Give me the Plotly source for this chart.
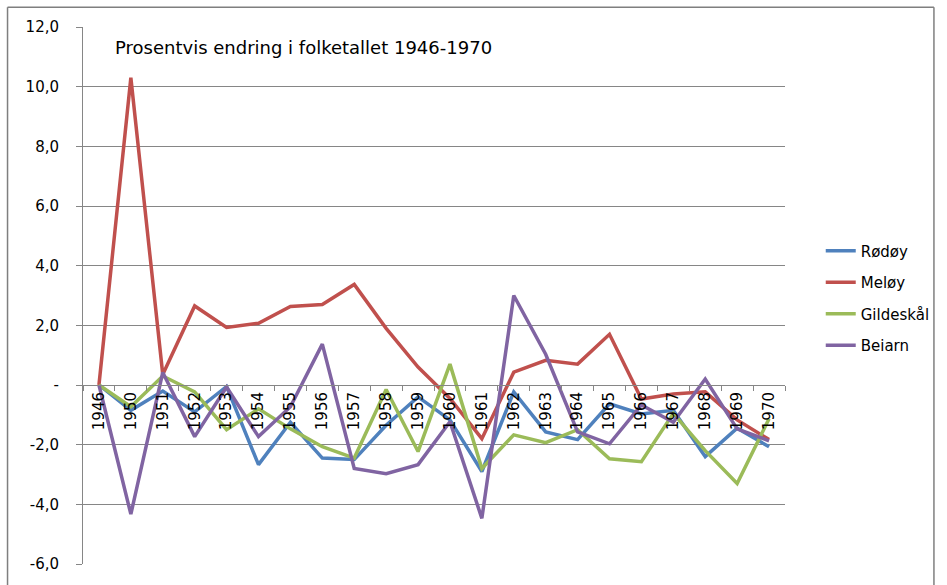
import plotly.graph_objects as go

years = ["1946", "1950", "1951", "1952", "1953", "1954", "1955", "1956", "1957", "1958", "1959",
         "1960", "1961", "1962", "1963", "1964", "1965", "1966", "1967", "1968", "1969", "1970"]

rodoy = [0, -0.85, -0.2, -0.9, -0.05, -2.67, -1.25, -2.45, -2.5, -1.35, -0.4,
         -1.17, -2.9, -0.23, -1.57, -1.83, -0.63, -0.97, -0.85, -2.4, -1.45, -2.07]
meloy = [0, 10.3, 0.35, 2.65, 1.93, 2.07, 2.63, 2.7, 3.37, 1.9, 0.6,
         -0.45, -1.8, 0.43, 0.83, 0.7, 1.7, -0.47, -0.3, -0.23, -1.17, -1.83]
gildeskal = [0, -0.73, 0.3, -0.23, -1.5, -0.8, -1.47, -2.07, -2.45, -0.15, -2.23,
             0.7, -2.8, -1.67, -1.93, -1.5, -2.47, -2.57, -0.95, -2.2, -3.3, -1.13]
beiarn = [0, -4.33, 0.42, -1.73, -0.07, -1.73, -0.73, 1.37, -2.8, -2.97, -2.67,
          -1.23, -4.47, 3.0, 1.03, -1.57, -1.97, -0.67, -1.25, 0.2, -1.47, -1.87]

series_names = ["Rødøy", "Meløy", "Gildeskål", "Beiarn"]
series_values = [rodoy, meloy, gildeskal, beiarn]
series_colors = ["#4F81BD", "#C0504D", "#9BBB59", "#8064A2"]

y_tickvals = [-6, -4, -2, 0, 2, 4, 6, 8, 10, 12]
y_ticktext = ["-6,0", "-4,0", "-2,0", "-", "2,0", "4,0", "6,0", "8,0", "10,0", "12,0"]

title_text = "Prosentvis endring i folketallet 1946-1970"

FONT = "DejaVu Sans"
GRID = "#868686"

fig = go.Figure()
for name, vals, col in zip(series_names, series_values, series_colors):
    fig.add_trace(go.Scatter(
        x=years, y=vals, name=name, mode="lines",
        line=dict(color=col, width=3.5),
        legendgroup=name,
    ))

W, H = 947, 585
ml, mr, mt, mb = 83, 157, 27, 17
pw = W - ml - mr
ph = H - mt - mb

def px_x(px):
    return (px - ml) / pw

def px_y(py):
    return (H - mb - py) / ph

fig.update_layout(
    width=W, height=H,
    margin=dict(l=ml, r=mr, t=mt, b=mb, pad=0),
    paper_bgcolor="white", plot_bgcolor="white",
    font=dict(family=FONT, size=15, color="#000000"),
    showlegend=True,
    legend=dict(
        x=px_x(826), xanchor="left",
        y=px_y(236), yanchor="top",
        font=dict(family=FONT, size=15, color="#000000"),
        tracegroupgap=9,
        bgcolor="rgba(0,0,0,0)",
    ),
    xaxis=dict(
        type="category",
        range=[-0.5, len(years) - 0.5],
        anchor="free", position=1/3,
        showline=True, linecolor=GRID, linewidth=1,
        ticks="outside", ticklen=5, tickcolor=GRID,
        tickson="boundaries",
        tickangle=-90,
        showgrid=False, zeroline=False,
        tickfont=dict(family=FONT, size=15, color="#000000"),
    ),
    yaxis=dict(
        range=[-6, 12],
        tickvals=y_tickvals, ticktext=y_ticktext,
        showline=True, linecolor=GRID, linewidth=1,
        ticks="outside", ticklen=6, tickcolor=GRID,
        ticklabelstandoff=14,
        showgrid=True, gridcolor=GRID, gridwidth=1,
        zeroline=False,
        tickfont=dict(family=FONT, size=15, color="#000000"),
    ),
)

fig.add_annotation(
    text=title_text, xref="paper", yref="paper",
    x=px_x(113), y=px_y(48), xanchor="left", yanchor="middle",
    showarrow=False, font=dict(family=FONT, size=18, color="#000000"),
)

# outer chart frame
fig.add_shape(type="line", xref="paper", yref="paper",
              x0=px_x(7), x1=px_x(940), y0=px_y(7), y1=px_y(7),
              line=dict(color="#7f7f7f", width=1.5))
fig.add_shape(type="line", xref="paper", yref="paper",
              x0=px_x(7), x1=px_x(7), y0=px_y(7), y1=px_y(600),
              line=dict(color="#7f7f7f", width=1.5))
fig.add_shape(type="line", xref="paper", yref="paper",
              x0=px_x(940), x1=px_x(940), y0=px_y(7), y1=px_y(600),
              line=dict(color="#7f7f7f", width=1.5))

fig.write_html("out.html",
               config={"displayModeBar": False},
               post_script="document.body.style.margin='0';document.body.style.overflow='hidden';")
